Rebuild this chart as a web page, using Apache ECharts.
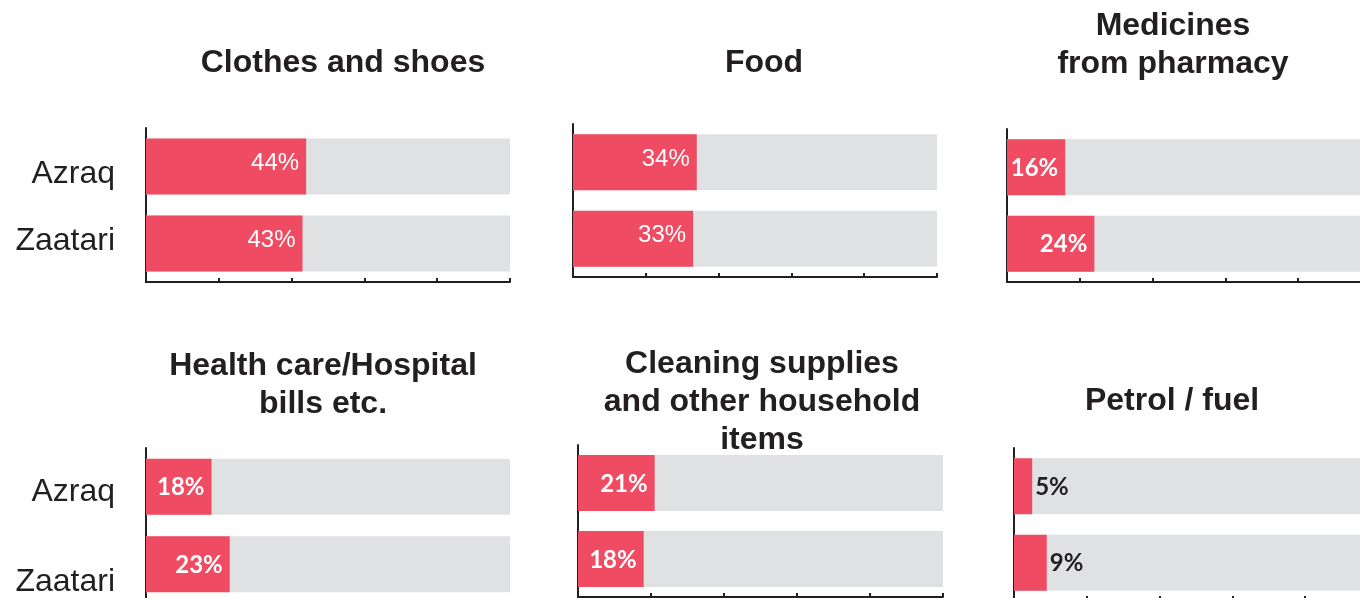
<!DOCTYPE html>
<html>
<head>
<meta charset="utf-8">
<script src="https://cdn.jsdelivr.net/npm/echarts@6/dist/echarts.min.js"></script>
<style>
html,body{margin:0;padding:0;background:#fff;}
#chart{width:1360px;height:598px;}
</style>
</head>
<body>
<div id="chart"></div>
<script>
const categories = ['Azraq', 'Zaatari'];
const panelTitles = ['Clothes and shoes', 'Food', 'Medicines\nfrom pharmacy', 'Health care/Hospital\nbills etc.', 'Cleaning supplies\nand other household\nitems', 'Petrol / fuel'];
const clothesShoes = [44, 43];
const food = [34, 33];
const medicines = [16, 24];
const healthCare = [18, 23];
const cleaningSupplies = [21, 18];
const petrolFuel = [5, 9];
const axisTicks = [0, 20, 40, 60, 80, 100];

const panelValues = [clothesShoes, food, medicines, healthCare, cleaningSupplies, petrolFuel];

// layout (styling, not data)
const grids = [
  {left: 146, top: 128, width: 364, height: 154},
  {left: 573, top: 124, width: 364, height: 153},
  {left: 1007, top: 129, width: 364, height: 153},
  {left: 146, top: 448, width: 364, height: 155},
  {left: 578, top: 445, width: 365, height: 152},
  {left: 1014, top: 448, width: 364, height: 153}
];
const tickLen = [4, 4, 4, 4, 4, 5];
const titlePos = [
  {x: 343, y: 44}, {x: 764, y: 44}, {x: 1173, y: 7},
  {x: 323, y: 347}, {x: 762, y: 345}, {x: 1172, y: 382}
];
const showCatLabels = [true, false, false, true, false, false];
const labelFonts = ['Liberation Sans', 'Liberation Sans', 'Lato', 'Lato', 'Lato', 'Lato'];
const labelWeights = ['normal', 'normal', 'bold', 'bold', 'bold', 'bold'];
const labelDy = [-3, -3, 1, 1, 1, 1];
const outsideLabel = [false, false, false, false, false, true];
const catRich = [
  {a: [15, 0, 0, 0], b: [0, 0, 4, 0]},
  null, null,
  {a: [10, 0, 0, 0], b: [36, 0, 0, 0]},
  null, null
];

const AXIS = '#231F20';
const RED = '#EF4B62';
const GREY = '#E0E1E3';

const option = {
  animation: false,
  backgroundColor: '#ffffff',
  title: panelTitles.map((t, i) => ({
    text: t,
    left: titlePos[i].x,
    top: titlePos[i].y,
    padding: 0,
    textAlign: 'center',
    textStyle: {
      fontFamily: 'Liberation Sans',
      fontWeight: 'bold',
      fontSize: 32,
      lineHeight: 38,
      color: AXIS
    }
  })),
  grid: grids.map(g => ({left: g.left, top: g.top, width: g.width, height: g.height, containLabel: false, outerBoundsMode: 'none'})),
  xAxis: grids.map((g, i) => ({
    gridIndex: i,
    type: 'value',
    min: axisTicks[0],
    max: axisTicks[axisTicks.length - 1],
    interval: axisTicks[1] - axisTicks[0],
    axisLine: {show: true, lineStyle: {color: AXIS, width: 2}},
    axisTick: {show: true, inside: true, length: tickLen[i], lineStyle: {color: AXIS, width: 2}},
    axisLabel: {show: false},
    splitLine: {show: false}
  })),
  yAxis: grids.map((g, i) => ({
    gridIndex: i,
    type: 'category',
    inverse: true,
    data: categories,
    axisLine: {show: true, lineStyle: {color: AXIS, width: 2}},
    axisTick: {show: false},
    axisLabel: showCatLabels[i] ? {
      show: true,
      margin: 31,
      fontFamily: 'Liberation Sans',
      fontSize: 32,
      color: AXIS,
      formatter: (v, idx) => (idx === 0 ? '{a|' : '{b|') + v + '}',
      rich: {
        a: {fontFamily: 'Liberation Sans', fontSize: 32, color: AXIS, padding: catRich[i].a},
        b: {fontFamily: 'Liberation Sans', fontSize: 32, color: AXIS, padding: catRich[i].b}
      }
    } : {show: false}
  })),
  series: panelValues.map((vals, i) => ({
    type: 'bar',
    xAxisIndex: i,
    yAxisIndex: i,
    data: vals,
    barWidth: 56,
    showBackground: true,
    backgroundStyle: {color: GREY},
    itemStyle: {color: RED},
    label: {
      show: true,
      position: outsideLabel[i] ? 'right' : 'insideRight',
      distance: outsideLabel[i] ? 3 : 7,
      formatter: '{c}%',
      fontFamily: labelFonts[i],
      fontWeight: labelWeights[i],
      fontSize: 24,
      color: outsideLabel[i] ? AXIS : '#ffffff',
      offset: [0, labelDy[i]]
    }
  }))
};

const chart = echarts.init(document.getElementById('chart'), null, {renderer: 'canvas'});
chart.setOption(option);
</script>
</body>
</html>
